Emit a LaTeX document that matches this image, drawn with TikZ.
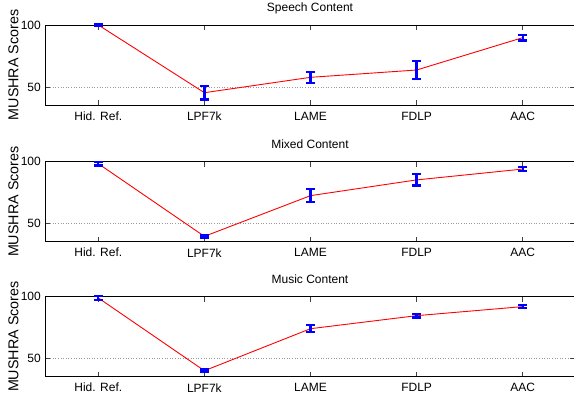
\documentclass[tikz,border=0pt]{standalone}
\usepackage{fontspec}
\setmainfont{Liberation Sans}
\newcommand\mushrapanel[5]{% #1 name, #2 top y, #3 px per unit, #4 title, #5 data value/err
\begin{scope}[shift={(0,#2)}]
  \pgfmathsetmacro\ys{#3}
  \draw[gridline] (45,0) -- (575,0);
  \draw[gridline] (45,{50*\ys}) -- (575,{50*\ys});
  \foreach \i in {0,...,4} {
    \draw[tickmark] ({98.3+106.1*\i},0) -- ++(0,5);
    \draw[tickmark] ({98.3+106.1*\i},80) -- ++(0,-5);
  }
  \foreach \yy in {0,50} {
    \draw[tickmark] (45,{\yy*\ys}) -- ++(5,0);
    \draw[tickmark] (575,{\yy*\ys}) -- ++(-5,0);
  }
  \draw[frame] (45,0) rectangle (575,80);
  \node[ticklabel,anchor=east] (#1y100) at (41,0) {100};
  \node[ticklabel,anchor=east] (#1y50) at (41,{50*\ys}) {50};
  \foreach \lab [count=\i from 0] in {Hid. Ref.,LPF7k,LAME,FDLP,AAC}
    \node[ticklabel] (#1x\i) at ({98.3+106.1*\i},91) {\lab};
  \node[ticklabel] (#1title) at (310,-17) {#4};
  \node[ylab,rotate=90] (#1ylabel) at (13.5,40) {MUSHRA Scores};
  \foreach \v/\e [count=\i from 0] in {#5} {
    \coordinate (#1p\i) at ({98.3+106.1*\i},{(100-\v)*\ys});
    \coordinate (#1hi\i) at ({98.3+106.1*\i},{(100-\v-\e)*\ys});
    \coordinate (#1lo\i) at ({98.3+106.1*\i},{(100-\v+\e)*\ys});
  }
  \draw[meanline] (#1p0) -- (#1p1) -- (#1p2) -- (#1p3) -- (#1p4);
  \foreach \i in {0,...,4} {
    \draw[errbar] (#1hi\i) -- (#1lo\i);
    \draw[errbar] ([xshift=-4.5]#1hi\i) -- ([xshift=4.5]#1hi\i);
    \draw[errbar] ([xshift=-4.5]#1lo\i) -- ([xshift=4.5]#1lo\i);
  }
\end{scope}}
\begin{document}
\begin{tikzpicture}[x=1pt,y=-1pt,
  errbar/.style={blue,line width=2.3pt},
  meanline/.style={red,line width=0.9pt},
  gridline/.style={black!40,dotted,line width=0.6pt},
  frame/.style={black,line width=0.9pt},
  tickmark/.style={black!75,line width=0.6pt},
  ticklabel/.style={font=\fontsize{12}{14}\selectfont,inner sep=0pt},
  ylab/.style={font=\fontsize{14.3}{16}\selectfont,inner sep=0pt}]
\useasboundingbox (0,0) rectangle (574,403);
\mushrapanel{s}{25}{1.24}{Speech Content}{100/0.6, 45.4/5.5, 57.8/4.3, 63.7/7.3, 89.8/2.2}
\mushrapanel{m}{161.7}{1.23}{Mixed Content}{98.4/1.6, 39.3/0.9, 72.4/5.3, 85.2/4.6, 94/1.6}
\mushrapanel{u}{296.7}{1.24}{Music Content}{99/1.4, 40.3/0.9, 74.2/2.9, 84.7/1.5, 92/1.2}
\end{tikzpicture}
\end{document}
